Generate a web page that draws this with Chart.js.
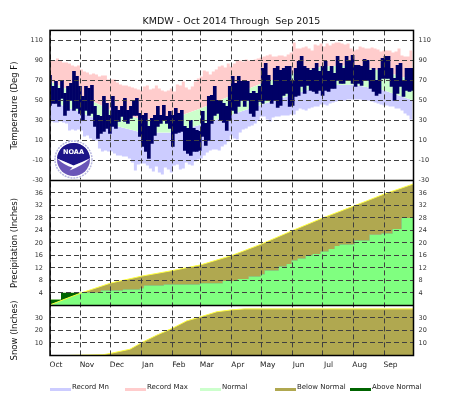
<!DOCTYPE html>
<html>
<head>
<meta charset="utf-8">
<title>KMDW</title>
<script src="https://cdn.jsdelivr.net/npm/chart.js@4/dist/chart.umd.min.js"></script>
<style>
  html, body { margin: 0; padding: 0; background: #fff; }
  #wrap { position: relative; width: 463px; height: 395px; overflow: hidden; }
  canvas { position: absolute; left: 0; top: 0; }
  .key { position: absolute; top: 388px; width: 21px; height: 3px; }
  .keytext { position: absolute; top: 382px; font: 7px "DejaVu Sans"; line-height: 10px; color: #222; white-space: nowrap; }
</style>
</head>
<body>
<div id="wrap">
  <canvas id="chart" width="463" height="395"></canvas>
</div>
<script>
const months = ["Oct", "Nov", "Dec", "Jan", "Feb", "Mar", "Apr", "May", "Jun", "Jul", "Aug", "Sep"];
const monthDays = [0, 31, 61, 92, 123, 151, 182, 212, 243, 273, 304, 335];

const tempTicks = [-30, -10, 10, 30, 50, 70, 90, 110];
const precipTicks = [4, 8, 12, 16, 20, 24, 28, 32, 36];
const snowTicks = [10, 20, 30];

// one value every 3 days, starting Oct 1
const recordMax = [90, 90, 92, 90, 88, 88, 87, 85, 84, 85, 81, 79, 78, 76, 77, 76, 74, 75, 75, 71,
  71, 71, 68, 66, 65, 65, 64, 63, 62, 61, 60, 64, 65, 61, 62, 65, 62, 60, 59, 60, 62,
  59, 66, 65, 69, 63, 61, 64, 69, 72, 74, 80, 79, 76, 79, 81, 84, 85, 83, 87, 84,
  87, 90, 90, 89, 91, 90, 90, 91, 92, 93, 94, 95, 96, 94, 94, 95, 95, 94, 96, 98,
  108, 102, 102, 103, 104, 102, 100, 106, 105, 107, 104, 107, 105, 107, 108, 108, 107, 106, 107, 102,
  100, 101, 104, 103, 102, 102, 103, 102, 101, 99, 100, 100, 100, 98, 99, 102, 95, 94, 94, 100, 100];
const recordMin = [29, 28, 28, 29, 28, 27, 20, 21, 20, 21, 20, 14, 15, 12, 10, 10, 2, -1, 0, -1,
  -1, -3, -5, -5, -6, -6, -8, -12, -20, -14, -13, -13, -15, -18, -21, -16, -22, -24, -17, -19, -22,
  -15, -14, -19, -18, -12, -14, -15, -11, -9, -8, -5, -2, 0, 1, 1, 0, 4, 6, 9, 15,
  12, 11, 18, 21, 22, 24, 25, 27, 30, 34, 34, 31, 29, 33, 34, 34, 35, 35, 35, 36,
  36, 40, 42, 41, 40, 42, 43, 44, 44, 46, 46, 45, 47, 48, 49, 50, 50, 50, 51, 51,
  51, 51, 51, 50, 50, 50, 49, 48, 47, 46, 45, 45, 44, 44, 42, 42, 40, 37, 35, 31, 30];
const obsHigh = [75, 64, 69, 62, 70, 57, 64, 67, 79, 74, 64, 54, 64, 62, 65, 44, 35, 34, 54, 47,
  35, 54, 44, 40, 44, 52, 40, 44, 50, 52, 37, 35, 37, 24, 32, 35, 44, 35, 45, 34,
  39, 35, 42, 37, 40, 24, 22, 30, 22, 20, 19, 39, 27, 54, 55, 64, 50, 49, 47, 44,
  64, 74, 67, 74, 69, 70, 69, 57, 59, 57, 64, 82, 87, 75, 65, 82, 84, 80, 82, 84,
  84, 70, 82, 89, 94, 84, 82, 80, 82, 87, 79, 84, 89, 79, 84, 77, 94, 87, 82, 94,
  89, 95, 85, 85, 84, 91, 90, 80, 82, 70, 82, 92, 94, 94, 82, 72, 85, 87, 70, 82, 82, 82];
const obsLow = [45, 47, 47, 44, 52, 35, 40, 50, 40, 42, 37, 30, 40, 35, 37, 24, 12, 17, 19, 22,
  17, 24, 22, 29, 34, 29, 27, 32, 35, 35, 14, 4, -1, -8, 7, 15, 24, 27, 30, 27,
  22, 4, 17, 18, 19, 0, -3, -5, -1, -1, 0, 14, 5, 10, 27, 35, 37, 30, 28, 20,
  30, 40, 37, 44, 50, 44, 50, 37, 34, 40, 49, 47, 50, 50, 47, 50, 43, 45, 55, 57,
  44, 45, 54, 55, 64, 57, 65, 60, 59, 57, 60, 55, 60, 59, 62, 62, 70, 67, 67, 70,
  70, 67, 64, 67, 65, 70, 70, 62, 59, 55, 57, 72, 72, 72, 64, 50, 57, 64, 54, 60, 59, 60];

const normalDays = [0, 31, 61, 92, 123, 151, 182, 212, 243, 273, 304, 335, 364];
const normalHigh = [69, 55, 40, 31, 32, 42, 55, 67, 77, 84, 85, 79, 70];
const normalLow = [50, 38, 26, 18, 18, 26, 36, 46, 56, 65, 66, 60, 50];

const precipNormal = [0.2, 4.0, 7.2, 9.4, 11.2, 13, 16, 19.7, 24, 28, 31.8, 35.7, 38.9];
const precipDays = [0, 11, 51, 73, 90, 94, 114, 150, 173, 188, 199, 211, 215, 229, 237, 242, 248, 256, 263,
  271, 279, 285, 290, 305, 320, 332, 343, 352, 364];
const precipObserved = [1.9, 4.1, 4.8, 5.1, 5.5, 6.4, 6.7, 7.1, 7.8, 8.5, 9.3, 10, 11.2, 12.5, 13.3, 14.4, 15, 16, 16.5,
  17.3, 18.1, 19, 19.5, 20.8, 22.6, 23, 24.5, 28, 28];

const snowDays = [20, 53, 60, 80, 92, 107, 123, 137, 151, 167, 182, 195, 364];
const snowNormal = [0.1, 0.6, 1.6, 5, 10.4, 16.3, 22, 27.7, 31, 35, 36.5, 37.3, 37.3];

const legendNames = ["Record Mn", "Record Max", "Normal", "Below Normal", "Above Normal"];
const colMin = "#ccccff";
const colMax = "#ffcccc";
const colNormal = "#ccffcc";
const colObs = "#000066";
const colBelow = "#b0a850";
const colAbove = "#006400";
const colPrecip = "#80ff80";
const colEdge = "#ffff40";
const legendColors = [colMin, colMax, colNormal, colBelow, colAbove];

const threeDays = (arr) => arr.map((v, i) => ({ x: i * 3, y: v }));
const pair = (xs, ys) => xs.map((x, i) => ({ x: x, y: ys[i] }));

const gridColor = "#404040";
const gridDash = [5, 3];
const tickFont = { size: 6.5, family: "DejaVu Sans" };
const titleFont = { size: 8.5, family: "DejaVu Sans" };

function fixedTicks(list) {
  return (scale) => {
    scale.ticks = list.map((v) => ({ value: v }));
  };
}

function leftAxis(min, max, weight, list, text) {
  return {
    type: "linear", position: "left", stack: "rows", stackWeight: weight, min: min, max: max,
    afterBuildTicks: fixedTicks(list),
    afterFit: (scale) => { scale.width = 50; },
    grid: { color: gridColor, z: 1, drawTicks: false },
    border: { display: false, dash: gridDash },
    ticks: { font: tickFont, color: "#333", padding: 7, autoSkip: false, callback: (v) => v },
    title: { display: true, text: text, font: titleFont, color: "#111", padding: { top: 10, bottom: 0 } },
  };
}

function rightAxis(min, max, weight, list) {
  return {
    type: "linear", position: "right", stack: "rows", stackWeight: weight, min: min, max: max,
    afterBuildTicks: fixedTicks(list),
    afterFit: (scale) => { scale.width = 49.5; },
    grid: { display: false, drawTicks: false },
    border: { display: false },
    ticks: { font: tickFont, color: "#333", padding: 5, autoSkip: false, callback: (v) => v },
  };
}

const lineBase = { type: "line", pointRadius: 0, borderWidth: 0, tension: 0, xAxisID: "x" };

const framePlugin = {
  id: "frame",
  afterDraw(chart) {
    const { ctx, chartArea, scales } = chart;
    ctx.save();
    ctx.strokeStyle = "#000";
    ctx.lineWidth = 1.5;
    ctx.strokeRect(chartArea.left, chartArea.top, chartArea.right - chartArea.left, chartArea.bottom - chartArea.top);
    [scales.precip.top, scales.snow.top].forEach((y) => {
      ctx.beginPath();
      ctx.moveTo(chartArea.left, y);
      ctx.lineTo(chartArea.right, y);
      ctx.stroke();
    });
    ctx.restore();
    drawLogo(ctx);
  },
};

// NOAA badge in the corner of the temperature panel
function drawLogo(ctx) {
  const cx = 73.5, cy = 159.5;
  ctx.save();
  ctx.fillStyle = "#fff";
  ctx.beginPath();
  ctx.arc(cx, cy, 19.5, 0, Math.PI * 2);
  ctx.fill();
  ctx.strokeStyle = "#b8b8e0";
  ctx.lineWidth = 1.5;
  ctx.setLineDash([2, 1]);
  ctx.beginPath();
  ctx.arc(cx, cy, 18.5, 0, Math.PI * 2);
  ctx.stroke();
  ctx.setLineDash([]);
  ctx.fillStyle = "#6a55b8";
  ctx.beginPath();
  ctx.arc(cx, cy, 16.5, 0, Math.PI * 2);
  ctx.fill();
  ctx.fillStyle = "#1c1488";
  ctx.beginPath();
  ctx.arc(cx, cy, 16.5, Math.PI * 1.03, Math.PI * 1.97);
  ctx.quadraticCurveTo(cx + 8, cy + 3, cx, cy + 6);
  ctx.quadraticCurveTo(cx - 9, cy + 2, cx - 16.4, cy - 1);
  ctx.fill();
  ctx.fillStyle = "#fff";
  ctx.beginPath();
  ctx.moveTo(cx - 16.4, cy - 1);
  ctx.quadraticCurveTo(cx - 9, cy + 2, cx, cy + 6);
  ctx.quadraticCurveTo(cx + 8, cy + 3, cx + 16.4, cy - 1);
  ctx.quadraticCurveTo(cx + 9, cy + 6, cx - 4, cy + 11);
  ctx.lineTo(cx - 1, cy + 8);
  ctx.quadraticCurveTo(cx - 9, cy + 6, cx - 16.4, cy - 1);
  ctx.fill();
  ctx.fillStyle = "#fff";
  ctx.font = "bold 6.5px 'DejaVu Sans'";
  ctx.textAlign = "center";
  ctx.textBaseline = "middle";
  ctx.fillText("NOAA", cx, cy - 7.5);
  ctx.restore();
}

new Chart(document.getElementById("chart"), {
  data: {
    datasets: [
      {
        type: "bar", label: "Observed", order: 0, yAxisID: "temp", xAxisID: "x",
        data: obsHigh.map((v, i) => ({ x: i * 3, y: [obsLow[i], v] })),
        backgroundColor: colObs, barThickness: 3, grouped: false,
      },
      Object.assign({}, lineBase, {
        label: "Normal", order: 3, yAxisID: "temp", data: pair(normalDays, normalHigh),
        fill: { target: 2 }, backgroundColor: colNormal,
      }),
      Object.assign({}, lineBase, {
        label: "Normal low", order: 4, yAxisID: "temp", data: pair(normalDays, normalLow),
      }),
      Object.assign({}, lineBase, {
        label: "Record Max", order: 5, yAxisID: "temp", data: threeDays(recordMax), stepped: true,
        fill: { target: 1, above: colMax, below: "transparent" },
      }),
      Object.assign({}, lineBase, {
        label: "Record Mn", order: 6, yAxisID: "temp", data: threeDays(recordMin), stepped: true,
        fill: { target: 2, above: "transparent", below: colMin },
      }),
      Object.assign({}, lineBase, {
        label: "Precipitation", order: 8, yAxisID: "precip", data: pair(precipDays, precipObserved),
        stepped: true, fill: "origin", backgroundColor: colPrecip,
      }),
      Object.assign({}, lineBase, {
        label: "Precipitation normal", order: 7, yAxisID: "precip", data: pair(normalDays, precipNormal),
        borderWidth: 1, borderColor: colEdge,
        fill: { target: 5, above: colBelow, below: colAbove },
      }),
      Object.assign({}, lineBase, {
        label: "Snow normal", order: 7, yAxisID: "snow", data: pair(snowDays, snowNormal),
        borderWidth: 1, borderColor: colEdge, fill: "origin", backgroundColor: colBelow,
      }),
    ],
  },
  options: {
    responsive: false,
    animation: false,
    events: [],
    layout: { padding: 0 },
    plugins: {
      legend: { display: false },
      tooltip: { enabled: false },
      title: {
        display: true,
        text: "KMDW - Oct 2014 Through  Sep 2015",
        color: "#111",
        font: { size: 9.5, weight: "normal", family: "DejaVu Sans" },
        padding: { top: 16, bottom: 3 },
      },
    },
    scales: {
      x: {
        type: "linear", position: "bottom", min: 0, max: 364, offset: false,
        afterBuildTicks: fixedTicks(monthDays),
        afterFit: (scale) => { scale.height = 39.5; },
        grid: { color: gridColor, z: 1, drawTicks: false, offset: false },
        border: { display: false, dash: gridDash },
        ticks: {
          font: { size: 7.5, family: "DejaVu Sans" }, color: "#222", padding: 5,
          autoSkip: false, maxRotation: 0, labelOffset: 6,
          callback: (v, i) => months[i],
        },
      },
      // left stack is laid out bottom-up, right stack top-down
      snow: leftAxis(0, 40, 1, snowTicks, "Snow (Inches)"),
      precip: leftAxis(0, 40, 2.5, precipTicks, "Precipitation (Inches)"),
      temp: leftAxis(-30, 120, 3, tempTicks, "Temperature (Deg F)"),
      tempR: rightAxis(-30, 120, 3, tempTicks),
      precipR: rightAxis(0, 40, 2.5, precipTicks),
      snowR: rightAxis(0, 40, 1, snowTicks),
    },
  },
  plugins: [framePlugin],
});

// legend keys sit at a fixed 75px pitch under the plot
const wrap = document.getElementById("wrap");
legendNames.forEach((name, i) => {
  const key = document.createElement("div");
  key.className = "key";
  key.style.left = 50 + i * 75 + "px";
  key.style.background = legendColors[i];
  wrap.appendChild(key);
  const text = document.createElement("div");
  text.className = "keytext";
  text.style.left = 72 + i * 75 + "px";
  text.textContent = name;
  wrap.appendChild(text);
});
</script>
</body>
</html>
